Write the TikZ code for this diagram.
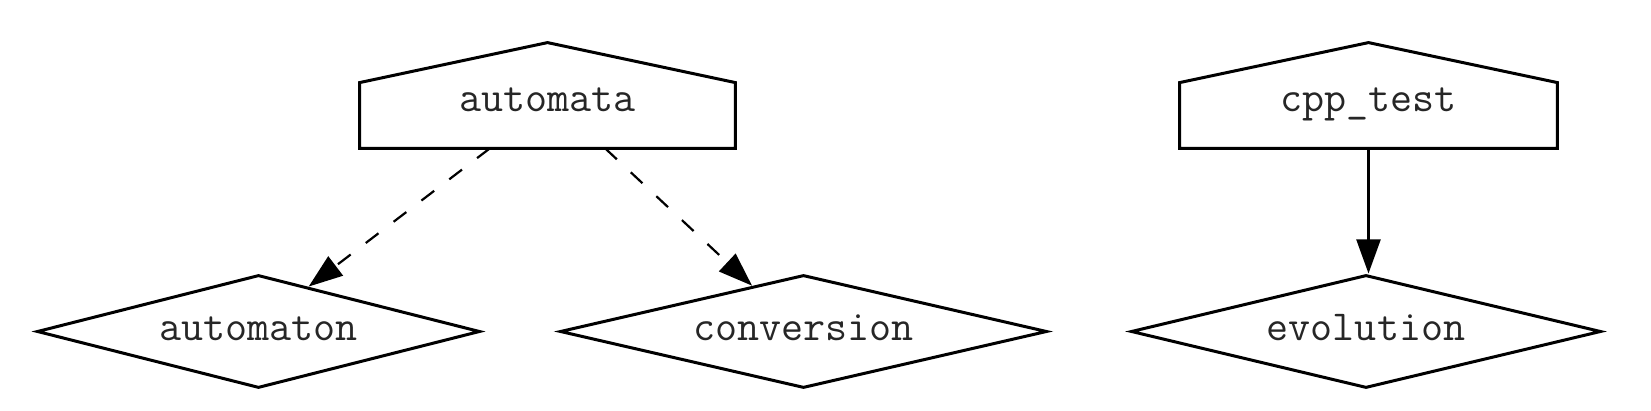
\documentclass[tikz,border=0pt]{standalone}
\usepackage{fontspec}
\usetikzlibrary{shapes.geometric,arrows.meta,calc}
\begin{document}
\begin{tikzpicture}[x=0.5pt,y=-0.5pt,
  lbl/.style={font=\ttfamily\fontsize{21.4}{24}\selectfont,text=black!85},
  housebox/.style={lbl,rectangle,draw=none,inner sep=0pt,
    minimum height=32.5pt,text height=6pt,text depth=9.5pt},
  houseline/.style={draw=black,line width=1.5pt,line join=miter},
  diam/.style={lbl,diamond,draw=black,line width=1.5pt,inner sep=0pt,
    shape aspect=4.3,minimum height=56.5pt,text height=12pt,text depth=3pt},
  conn/.style={line width=1.1pt,-{Triangle[length=17pt,width=12pt]}},
  dashconn/.style={conn,dash pattern=on 8pt off 9.5pt}
]
\fill[white] (0,0) rectangle (1651,411);
\useasboundingbox (0,0) rectangle (1651,411);

% house nodes
\node[housebox,minimum width=187.5pt] (automata) at (547.5,115.5) {automata};
\node[housebox,minimum width=188.5pt] (cpptest) at (1368.5,115.5) {cpp\_test};
\foreach \n in {automata,cpptest}{
  \draw[houseline] (\n.south west) -- (\n.north west) -- ($(\n.north)+(0,20pt)$)
    -- (\n.north east) -- (\n.south east) -- cycle;
}

% diamonds
\node[diam,minimum width=221.5pt] (automaton) at (258.5,331.5) {automaton};
\node[diam,minimum width=243.5pt] (conversion) at (803.5,331.5) {conversion};
\node[diam,minimum width=235pt] (evolution) at (1366,331.5) {evolution};

% connectors
\draw[dashconn] ($(automata.south)!0.307!(automata.south west)$)
  -- ($(automaton.north)!0.225!(automaton.east)$);
\draw[dashconn] ($(automata.south)!0.307!(automata.south east)$)
  -- ($(conversion.north)!0.21!(conversion.west)$);
\draw[conn] (cpptest.south) -- (cpptest.south |- evolution.north);
\end{tikzpicture}
\end{document}
